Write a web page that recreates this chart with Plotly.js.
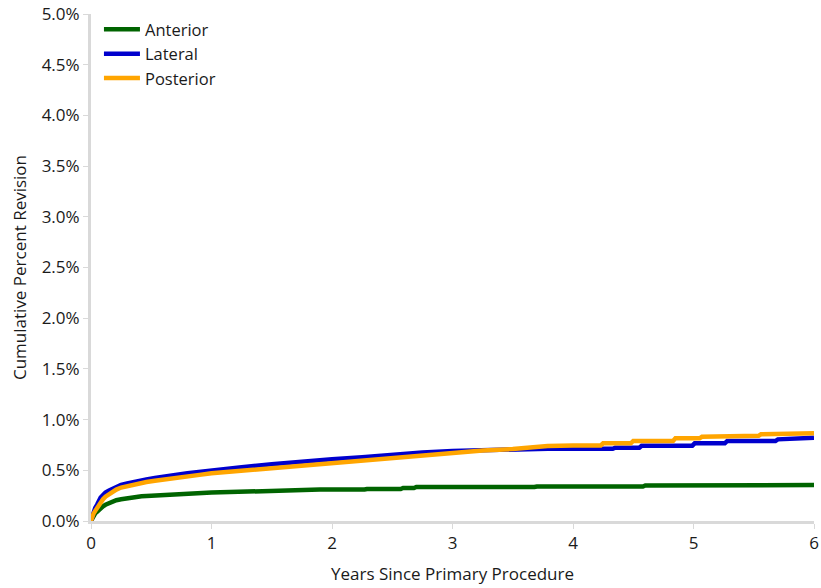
<!DOCTYPE html>
<html>
<head>
<meta charset="utf-8">
<script src="https://cdn.plot.ly/plotly-3.0.1.min.js"></script>
<style>html,body{margin:0;padding:0;background:#fff;}#chart{width:821px;height:588px;}</style>
</head>
<body>
<div id="chart"></div>
<script>
const anteriorYears = [0, 0.01, 0.02, 0.035, 0.05, 0.065, 0.08, 0.1, 0.12, 0.145, 0.17, 0.21, 0.25, 0.3, 0.35, 0.42, 0.5, 0.6, 0.7, 0.85, 1.0, 1.15, 1.3, 1.45, 1.6, 1.75, 1.9, 2.27, 2.29, 2.57, 2.59, 2.68, 2.70, 3.68, 3.70, 4.58, 4.60, 6.0];
const anteriorPct   = [0, 0.03, 0.05, 0.075, 0.09, 0.11, 0.13, 0.145, 0.16, 0.175, 0.19, 0.205, 0.215, 0.225, 0.235, 0.243, 0.25, 0.258, 0.265, 0.273, 0.28, 0.285, 0.29, 0.295, 0.30, 0.305, 0.31, 0.31, 0.315, 0.315, 0.325, 0.325, 0.335, 0.335, 0.34, 0.34, 0.35, 0.355];

const lateralYears = [0, 0.01, 0.02, 0.035, 0.05, 0.065, 0.08, 0.1, 0.12, 0.15, 0.18, 0.21, 0.25, 0.3, 0.35, 0.4, 0.46, 0.53, 0.6, 0.7, 0.8, 0.9, 1.0, 1.25, 1.5, 1.75, 2.0, 2.25, 2.5, 2.75, 3.0, 3.25, 3.5, 3.79, 4.33, 4.35, 4.55, 4.57, 4.99, 5.01, 5.26, 5.28, 5.68, 5.70, 6.0];
const lateralPct   = [0, 0.05, 0.09, 0.13, 0.16, 0.2, 0.23, 0.255, 0.28, 0.30, 0.32, 0.34, 0.355, 0.37, 0.385, 0.397, 0.41, 0.425, 0.44, 0.455, 0.47, 0.485, 0.50, 0.53, 0.56, 0.59, 0.61, 0.63, 0.655, 0.675, 0.69, 0.70, 0.71, 0.713, 0.713, 0.723, 0.723, 0.743, 0.743, 0.766, 0.766, 0.789, 0.789, 0.805, 0.822];

const posteriorYears = [0, 0.01, 0.02, 0.035, 0.05, 0.065, 0.08, 0.1, 0.12, 0.15, 0.18, 0.21, 0.25, 0.3, 0.35, 0.4, 0.46, 0.53, 0.6, 0.7, 0.8, 0.9, 1.0, 1.25, 1.5, 1.75, 2.0, 2.25, 2.5, 2.75, 3.0, 3.25, 3.5, 3.79, 4.0, 4.23, 4.25, 4.48, 4.50, 4.83, 4.85, 5.05, 5.07, 5.13, 5.15, 5.54, 5.56, 5.65, 5.67, 6.0];
const posteriorPct   = [0, 0.04, 0.07, 0.1, 0.13, 0.16, 0.19, 0.215, 0.24, 0.265, 0.29, 0.31, 0.33, 0.345, 0.36, 0.373, 0.385, 0.397, 0.41, 0.425, 0.44, 0.455, 0.47, 0.495, 0.52, 0.555, 0.575, 0.60, 0.625, 0.65, 0.675, 0.695, 0.71, 0.74, 0.745, 0.745, 0.766, 0.766, 0.789, 0.789, 0.815, 0.815, 0.83, 0.83, 0.84, 0.84, 0.855, 0.855, 0.86, 0.865];

const seriesNames = ['Anterior', 'Lateral', 'Posterior'];
const seriesColors = ['#006400', '#0000CD', '#FFA500'];

const xTicks = [0, 1, 2, 3, 4, 5, 6];
const yTicks = [0, 0.5, 1, 1.5, 2, 2.5, 3, 3.5, 4, 4.5, 5];

const xs = [anteriorYears, lateralYears, posteriorYears];
const ys = [anteriorPct, lateralPct, posteriorPct];

const traces = seriesNames.map((n, i) => ({
  x: xs[i], y: ys[i], name: n, type: 'scatter', mode: 'lines',
  line: {color: seriesColors[i], width: 4.5, shape: 'linear'},
  cliponaxis: false
}));

const fam = '"Open Sans", "Noto Sans", sans-serif';
const txt = '#1a1a1a';

const layout = {
  width: 821, height: 588,
  margin: {l: 91, r: 7, t: 14, b: 67},
  paper_bgcolor: '#fff', plot_bgcolor: '#fff',
  font: {family: fam, color: txt, size: 17},
  showlegend: true,
  legend: {x: 0.011, y: 1.004, xanchor: 'left', yanchor: 'top', bgcolor: 'rgba(0,0,0,0)', font: {size: 16.5, family: fam, color: txt}, tracegroupgap: 0, itemwidth: 36},
  xaxis: {
    range: [0, 6], tickvals: xTicks, ticktext: xTicks.map(String),
    showgrid: false, zeroline: false,
    showline: true, linecolor: '#d9d9d9', linewidth: 3,
    ticks: 'outside', ticklen: 5, tickcolor: '#d9d9d9', tickwidth: 1,
    tickfont: {size: 17}, ticklabeloverflow: 'allow',
    title: {text: 'Years Since Primary Procedure', font: {size: 17}, standoff: 15}
  },
  yaxis: {
    range: [0, 5], tickvals: yTicks, ticktext: yTicks.map(v => v.toFixed(1) + '%'),
    showgrid: false, zeroline: false,
    showline: true, linecolor: '#d9d9d9', linewidth: 3,
    ticks: 'outside', ticklen: 5, tickcolor: '#d9d9d9', tickwidth: 1,
    tickfont: {size: 17},
    title: {text: 'Cumulative Percent Revision', font: {size: 17}, standoff: 11}
  }
};

Plotly.newPlot('chart', traces, layout, {displayModeBar: false, staticPlot: true});
</script>
</body>
</html>
